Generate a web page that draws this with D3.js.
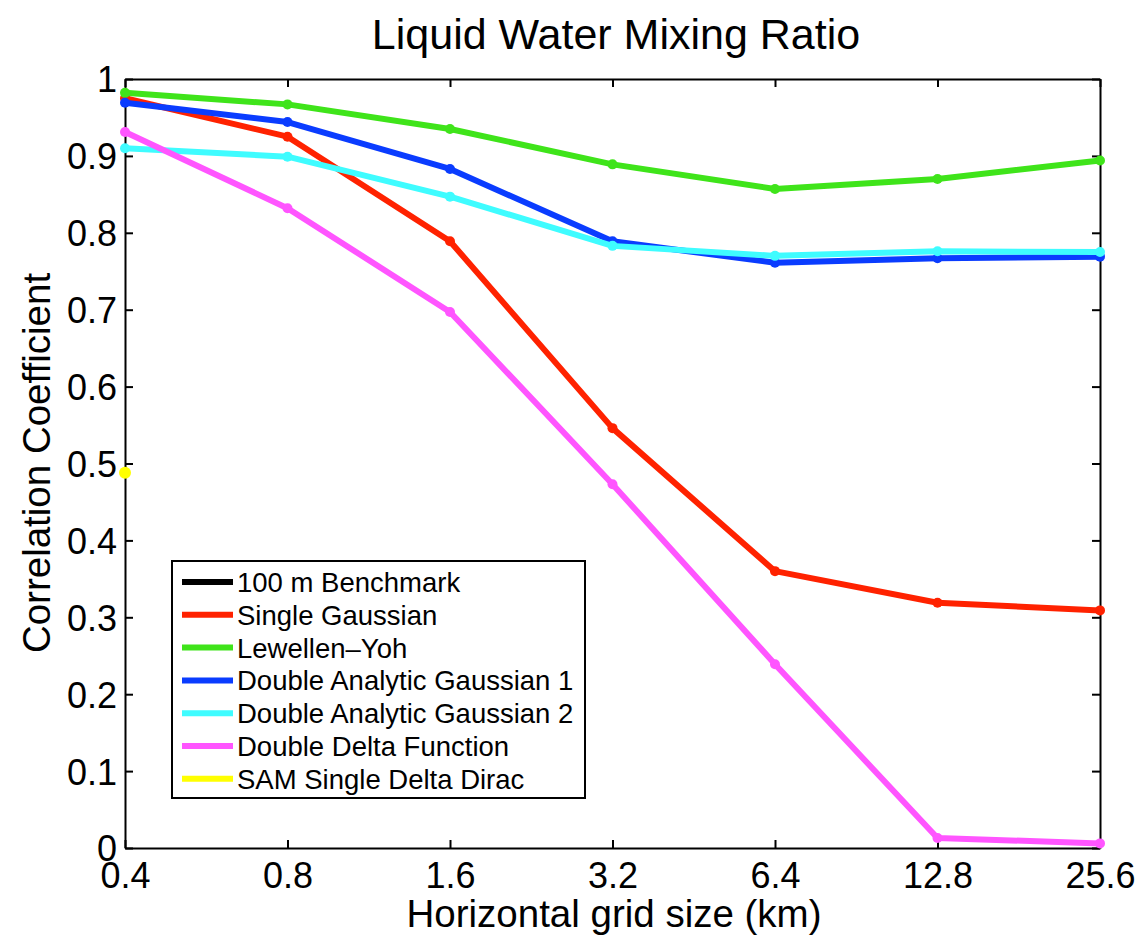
<!DOCTYPE html>
<html>
<head>
<meta charset="utf-8">
<script src="https://cdn.jsdelivr.net/npm/d3@7"></script>
<style>
  body { margin: 0; background: #fff; }
  text { font-family: "Liberation Sans", Arial, sans-serif; fill: #000; }
</style>
</head>
<body>
<div class="canvas"></div>
<script>
// data
const gridSizes = ['0.4', '0.8', '1.6', '3.2', '6.4', '12.8', '25.6'];
const yTicks = [0, 0.1, 0.2, 0.3, 0.4, 0.5, 0.6, 0.7, 0.8, 0.9, 1];

const benchmark = [];
const singleGaussian = [0.975, 0.925, 0.789, 0.546, 0.360, 0.319, 0.309];
const lewellenYoh = [0.982, 0.967, 0.935, 0.889, 0.857, 0.870, 0.894];
const doubleAnalytic1 = [0.969, 0.944, 0.883, 0.789, 0.761, 0.767, 0.769];
const doubleAnalytic2 = [0.910, 0.899, 0.847, 0.783, 0.770, 0.776, 0.775];
const doubleDelta = [0.931, 0.832, 0.697, 0.473, 0.239, 0.013, 0.006];
const samSingleDelta = [0.488];

const seriesNames = ['100 m Benchmark', 'Single Gaussian', 'Lewellen\u2013Yoh',
  'Double Analytic Gaussian 1', 'Double Analytic Gaussian 2',
  'Double Delta Function', 'SAM Single Delta Dirac'];
const seriesColors = ['#000000', '#ff2200', '#3fe41a', '#0a3cff', '#3ffcff', '#ff55ff', '#ffff00'];
const seriesValues = [benchmark, singleGaussian, lewellenYoh, doubleAnalytic1,
  doubleAnalytic2, doubleDelta, samSingleDelta];

const dims = { width: 1140, height: 935 };
const plot = { left: 125, right: 1100, top: 79, bottom: 848 };

const svg = d3.select('.canvas')
  .append('svg')
  .attr('width', dims.width)
  .attr('height', dims.height);

const x = d3.scalePoint()
  .domain(gridSizes)
  .range([plot.left, plot.right]);

const y = d3.scaleLinear()
  .domain([0, 1])
  .range([plot.bottom, plot.top]);

// axes (matlab-style box with inward ticks)
const tickLen = 8;
const xAxis = svg.append('g')
  .attr('transform', `translate(0, ${plot.bottom})`)
  .call(d3.axisBottom(x).tickSizeInner(-tickLen).tickSizeOuter(0).tickPadding(14));
const yAxis = svg.append('g')
  .attr('transform', `translate(${plot.left}, 0)`)
  .call(d3.axisLeft(y).tickValues(yTicks).tickFormat(d => d === 0 ? '0' : d === 1 ? '1' : d3.format('.1f')(d))
    .tickSizeInner(-tickLen).tickSizeOuter(0).tickPadding(8));
const xTop = svg.append('g')
  .attr('transform', `translate(0, ${plot.top})`)
  .call(d3.axisTop(x).tickSizeInner(-tickLen).tickSizeOuter(0).tickFormat(''));
const yRight = svg.append('g')
  .attr('transform', `translate(${plot.right}, 0)`)
  .call(d3.axisRight(y).tickValues(yTicks).tickSizeInner(-tickLen).tickSizeOuter(0).tickFormat(''));

[xAxis, yAxis, xTop, yRight].forEach(g => {
  g.selectAll('.domain').attr('stroke', '#000').attr('stroke-width', 2);
  g.selectAll('.tick line').attr('stroke', '#000').attr('stroke-width', 2);
  g.selectAll('.tick text')
    .style('font-family', '"Liberation Sans", Arial, sans-serif')
    .style('font-size', '36px')
    .attr('fill', '#000');
});
xAxis.selectAll('.tick text').attr('dy', '0.72em');
yAxis.selectAll('.tick text').attr('dy', '0.36em');

// lines
const line = d3.line()
  .x((d, i) => x(gridSizes[i]))
  .y(d => y(d));

const lines = svg.append('g');
seriesValues.forEach((vals, k) => {
  if (vals.length > 1) {
    lines.append('path')
      .attr('d', line(vals))
      .attr('fill', 'none')
      .attr('stroke', seriesColors[k])
      .attr('stroke-width', 6)
      .attr('stroke-linejoin', 'round');
  }
  lines.selectAll(null)
    .data(vals)
    .enter()
    .append('circle')
      .attr('cx', (d, i) => x(gridSizes[i]))
      .attr('cy', d => y(d))
      .attr('r', vals.length > 1 ? 5 : 6)
      .attr('fill', seriesColors[k]);
});

// legend
const legend = svg.append('g').attr('transform', 'translate(172, 561)');
legend.append('rect')
  .attr('width', 413).attr('height', 237)
  .attr('fill', '#fff').attr('stroke', '#000').attr('stroke-width', 2);
seriesNames.forEach((name, i) => {
  const rowY = 21 + i * 32.8;
  legend.append('line')
    .attr('x1', 10).attr('x2', 61)
    .attr('y1', rowY).attr('y2', rowY)
    .attr('stroke', seriesColors[i]).attr('stroke-width', 6);
  legend.append('text')
    .attr('x', 65).attr('y', rowY)
    .attr('dy', '0.36em')
    .style('font-size', '27.5px')
    .text(name);
});

// titles
svg.append('text')
  .attr('x', 616).attr('y', 49)
  .attr('text-anchor', 'middle')
  .style('font-size', '43px')
  .text('Liquid Water Mixing Ratio');

svg.append('text')
  .attr('x', 614).attr('y', 927)
  .attr('text-anchor', 'middle')
  .style('font-size', '38.5px')
  .text('Horizontal grid size (km)');

svg.append('text')
  .attr('transform', `translate(50, 463) rotate(-90)`)
  .attr('text-anchor', 'middle')
  .style('font-size', '38.5px')
  .text('Correlation Coefficient');
</script>
</body>
</html>
